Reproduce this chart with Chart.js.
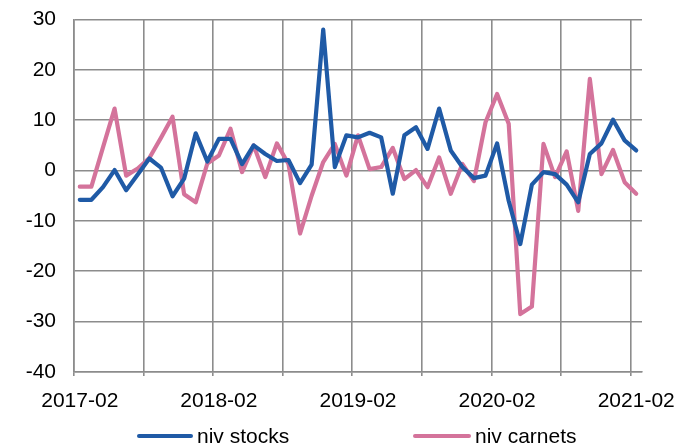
<!DOCTYPE html>
<html>
<head>
<meta charset="utf-8">
<script src="https://cdn.jsdelivr.net/npm/chart.js@4/dist/chart.umd.min.js"></script>
<style>
  html, body { margin: 0; padding: 0; background: #fff; }
  #wrap { position: relative; width: 693px; height: 448px; }
  #niv-chart { display: block; }
  .legend-item { position: absolute; top: 424px; height: 24px; font: 21px "Liberation Sans", Arial, sans-serif; color: #000; line-height: 24px; white-space: nowrap; }
  .legend-item .swatch { display: inline-block; height: 4px; border-radius: 2px; vertical-align: middle; margin-right: 4px; position: relative; top: -1px; }
</style>
</head>
<body>
<div id="wrap">
  <canvas id="niv-chart" width="693" height="448"></canvas>
  <div id="legend"></div>
</div>
<script>
// monthly, 2017-02 .. 2021-02
const months = [
  "2017-02", "2017-03", "2017-04", "2017-05", "2017-06", "2017-07", "2017-08", "2017-09", "2017-10", "2017-11", "2017-12", "2018-01",
  "2018-02", "2018-03", "2018-04", "2018-05", "2018-06", "2018-07", "2018-08", "2018-09", "2018-10", "2018-11", "2018-12", "2019-01",
  "2019-02", "2019-03", "2019-04", "2019-05", "2019-06", "2019-07", "2019-08", "2019-09", "2019-10", "2019-11", "2019-12", "2020-01",
  "2020-02", "2020-03", "2020-04", "2020-05", "2020-06", "2020-07", "2020-08", "2020-09", "2020-10", "2020-11", "2020-12", "2021-01",
  "2021-02"
];

const nivStocks = [
  -5.8, -5.8, -3.3, 0.1, -3.9, -0.8, 2.4, 0.6, -5.1, -1.6, 7.4, 1.8,
  6.3, 6.3, 1.3, 5.0, 3.3, 1.9, 2.1, -2.5, 1.2, 28.0, 0.7, 7.0,
  6.6, 7.5, 6.6, -4.6, 7.0, 8.6, 4.3, 12.3, 4.0, 0.7, -1.5, -1.0,
  5.4, -6.0, -14.6, -2.8, -0.3, -0.7, -2.8, -6.3, 3.3, 5.4, 10.1, 6.0,
  4.0
];

const nivCarnets = [
  -3.2, -3.2, 4.6, 12.3, -1.0, 0.4, 2.5, 6.5, 10.7, -4.7, -6.3, 1.4,
  3.0, 8.3, -0.3, 5.0, -1.3, 5.4, 1.3, -12.5, -5.0, 1.7, 5.3, -1.0,
  7.0, 0.3, 0.7, 4.5, -1.7, 0.1, -3.3, 2.6, -4.6, 1.3, -2.1, 9.6,
  15.2, 9.3, -28.5, -27.0, 5.3, -1.3, 3.8, -8.0, 18.2, -0.7, 4.1, -2.3,
  -4.6
];

const seriesNames = ["niv stocks", "niv carnets"];
const seriesColors = ["#1f5aa6", "#d4739b"];

const yTicks = [-40, -30, -20, -10, 0, 10, 20, 30];

const gridGray = "#8c8c8c";
const fontFamily = '"Liberation Sans", Arial, sans-serif';

document.addEventListener("DOMContentLoaded", function () {
  renderChart();
  renderLegend();
});

function renderChart() {
  const values = [nivStocks, nivCarnets];
  new Chart(document.getElementById("niv-chart"), {
    type: "line",
    data: {
      labels: months,
      datasets: seriesNames.map((name, i) => ({
        label: name,
        data: values[i],
        borderColor: seriesColors[i],
        backgroundColor: seriesColors[i],
        borderWidth: 4.2,
        borderJoinStyle: "round",
        borderCapStyle: "round",
        pointRadius: 0,
        tension: 0,
        fill: false,
      })),
    },
    options: {
      responsive: false,
      animation: false,
      events: [],
      layout: { padding: { top: 19.5, right: 51, bottom: 40, left: 0 } },
      plugins: {
        legend: { display: false },
        tooltip: { enabled: false },
      },
      scales: {
        x: {
          type: "category",
          offset: true,
          afterFit: (scale) => { scale.height = 36; },
          grid: {
            offset: true,
            lineWidth: 1.6,
            tickLength: 4,
            color: (ctx) => (ctx.index % 6 === 0 ? gridGray : "rgba(0,0,0,0)"),
          },
          border: { color: gridGray, width: 1.6 },
          ticks: {
            autoSkip: false,
            maxRotation: 0,
            minRotation: 0,
            padding: 13,
            color: "#000",
            font: { family: fontFamily, size: 21 },
            callback: function (value, index) {
              return index % 12 === 0 ? months[index] : "";
            },
          },
        },
        y: {
          min: yTicks[0],
          max: yTicks[yTicks.length - 1],
          afterFit: (scale) => {
            scale.width = 74;
            // let the layout padding alone decide the top edge
            scale.paddingTop = 0;
            scale.paddingBottom = 0;
          },
          afterBuildTicks: (scale) => { scale.ticks = yTicks.map((v) => ({ value: v })); },
          grid: { color: gridGray, lineWidth: 1.6, drawTicks: false },
          border: { color: gridGray, width: 1.6 },
          ticks: {
            padding: 18,
            color: "#000",
            font: { family: fontFamily, size: 21 },
          },
        },
      },
    },
  });
}

function renderLegend() {
  const legend = document.getElementById("legend");
  // left edges of the two legend entries, with their line length
  const entryLeft = [137, 413];
  const lineLength = [56, 58];
  legend.innerHTML = seriesNames.map((name, i) => `
    <div class="legend-item" style="left:${entryLeft[i]}px">
      <span class="swatch" style="width:${lineLength[i]}px;background:${seriesColors[i]}"></span>${name}
    </div>`).join("");
}
</script>
</body>
</html>
